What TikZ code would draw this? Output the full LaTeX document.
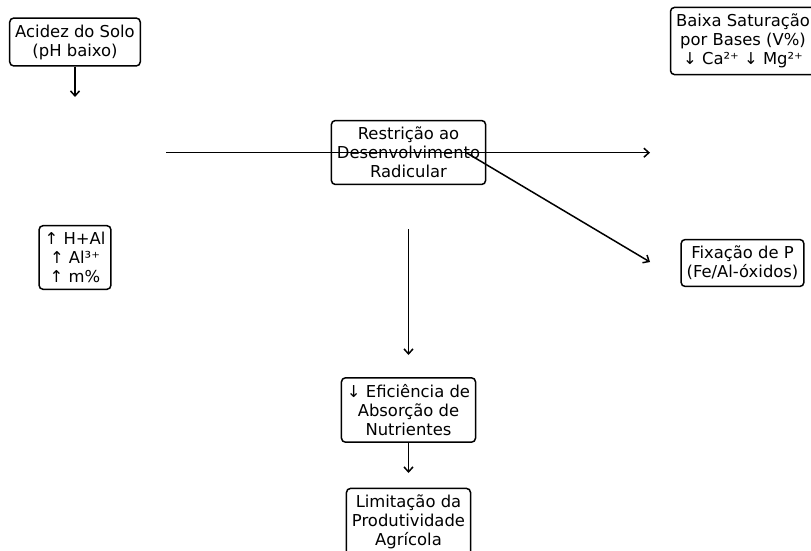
\documentclass[tikz,border=0pt]{standalone}
\usepackage{fontspec}
\setmainfont{DejaVu Sans}
\usetikzlibrary{arrows.meta}
\begin{document}
\begin{tikzpicture}[x=1pt,y=-1pt,
  box/.style={draw, line width=1.5pt, rounded corners=4pt, align=center,
    font=\fontsize{16.4}{19}\selectfont, inner xsep=5.5pt, inner ysep=6.5pt},
  arr/.style={line width=1.5pt, -{Straight Barb[length=5pt,width=9pt,line width=1.5pt]}}]
\useasboundingbox (0,0) rectangle (811,551);
\node[box] (acid) at (75,42) {Acidez do Solo\\(pH baixo)};
\node[box] (sat) at (743,41) {Baixa Saturação\\por Bases (V\%)\\↓ Ca²⁺ ↓ Mg²⁺};
\node[box] (rad) at (408.5,152.5) {Restrição ao\\Desenvolvimento\\Radicular};
\node[box] (hal) at (75,257.5) {↑ H+Al\\↑ Al³⁺\\↑ m\%};
\node[box] (fix) at (742.5,263) {Fixação de P\\(Fe/Al-óxidos)};
\node[box] (efi) at (408.5,410) {↓ Eficiência de\\Absorção de\\Nutrientes};
\node[box] (lim) at (408.5,522) {Limitação da\\Produtividade\\Agrícola};
\coordinate (a1) at (75,97);
\coordinate (h0) at (166,152.7);
\coordinate (h1) at (650,152.7);
\coordinate (d0) at (466,152.5);
\coordinate (d1) at (650,262);
\coordinate (v0) at (408.5,229);
\coordinate (v1) at (408.5,355);
\coordinate (e1) at (408.5,473);
\draw[arr] (acid.south) -- (a1);
\draw[arr] (h0) -- (h1);
\draw[arr] (d0) -- (d1);
\draw[arr] (v0) -- (v1);
\draw[arr] (efi.south) -- (e1);
\end{tikzpicture}
\end{document}
